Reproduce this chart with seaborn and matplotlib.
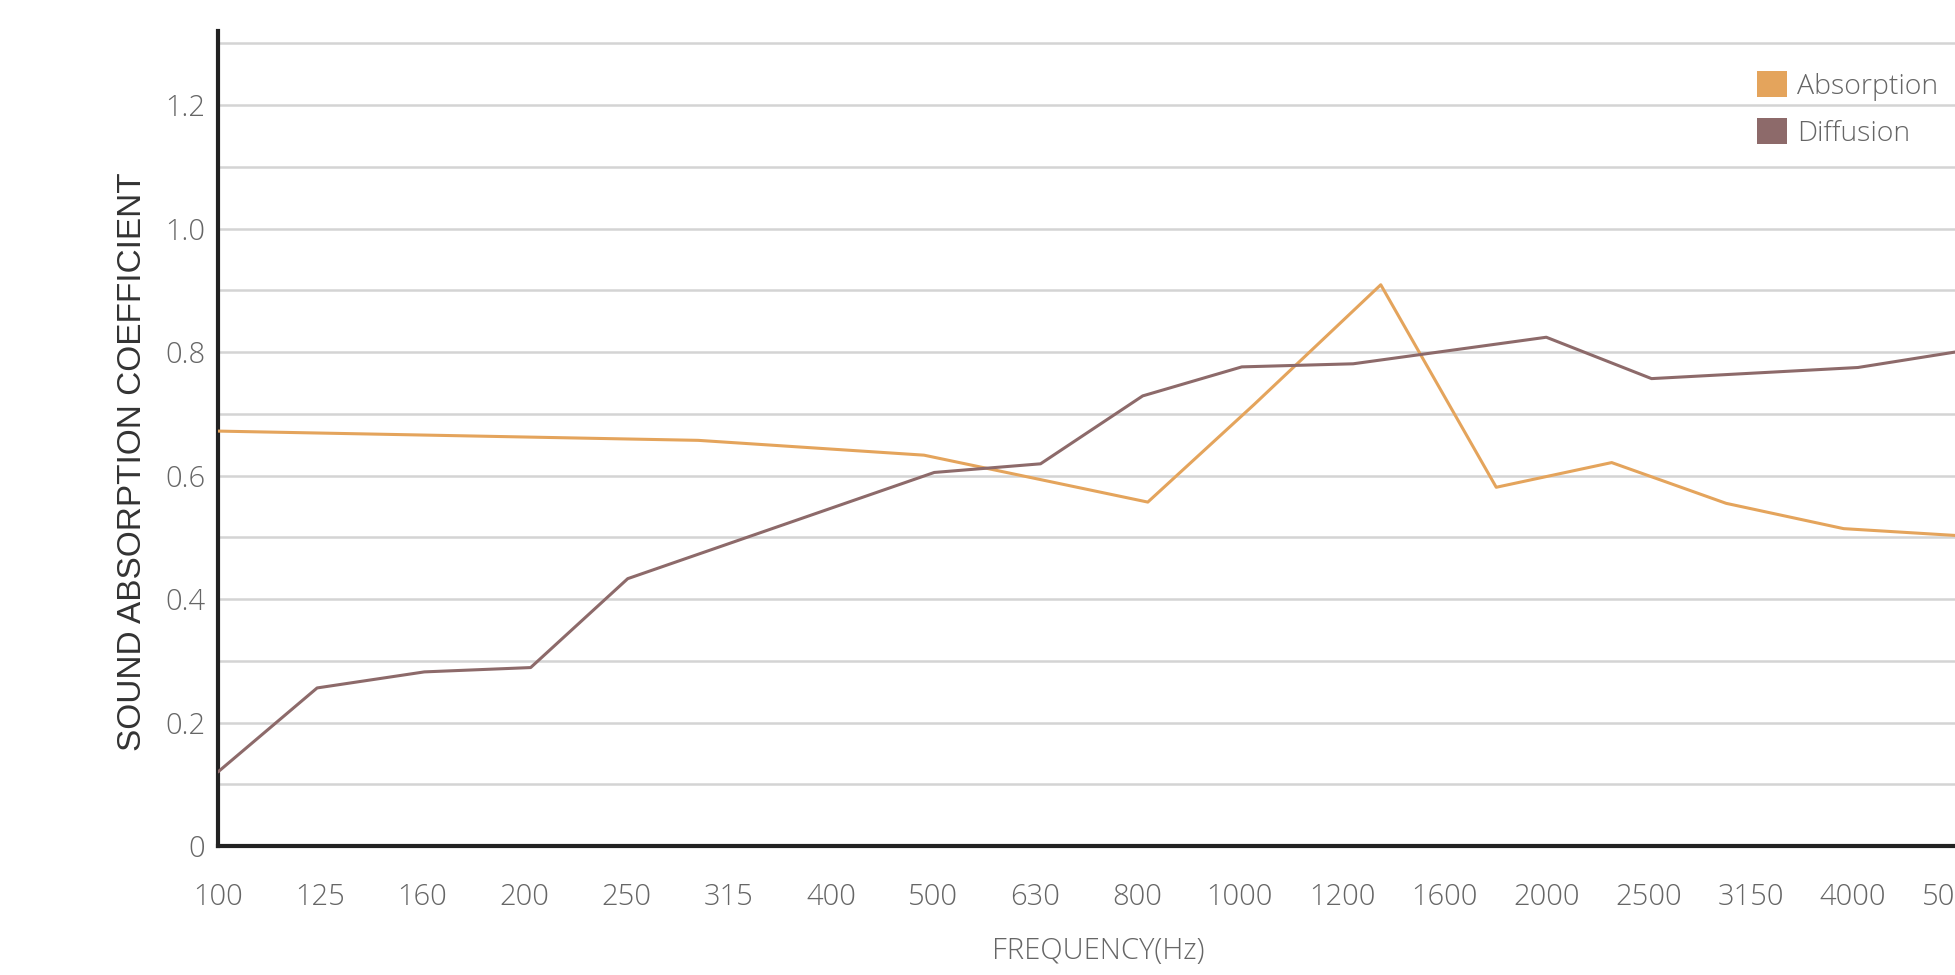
"""Sound absorption / diffusion coefficient vs frequency."""

import matplotlib

matplotlib.use("Agg")
import matplotlib.pyplot as plt
import numpy as np
import pandas as pd
import seaborn as sns
from matplotlib.patches import Patch

# third-octave band labels, one per category slot on the x axis
freq_labels = ["100", "125", "160", "200", "250", "315", "400", "500", "630",
               "800", "1000", "1200", "1600", "2000", "2500", "3150", "4000", "5000"]

# vertices in category-index units (the curve bends between bands too)
absorption_x = [0.0, 4.7, 6.91, 9.1, 10.14, 11.38, 12.51, 13.64, 14.76, 15.91, 17.0]
absorption_y = [0.672, 0.657, 0.633, 0.557, 0.715, 0.909, 0.581, 0.621, 0.555, 0.514, 0.503]

diffusion_x = [0.0, 0.97, 2.02, 3.06, 4.01, 7.01, 8.05, 9.05, 10.02, 11.11, 13.0, 14.03, 16.05, 17.0]
diffusion_y = [0.12, 0.256, 0.282, 0.289, 0.433, 0.605, 0.619, 0.729, 0.776, 0.781, 0.824, 0.757, 0.775, 0.80]

y_grid = [0.1, 0.2, 0.3, 0.4, 0.5, 0.6, 0.7, 0.8, 0.9, 1.0, 1.1, 1.2, 1.3]
y_tick_vals = [0.0, 0.2, 0.4, 0.6, 0.8, 1.0, 1.2]
y_tick_labels = ["0", "0.2", "0.4", "0.6", "0.8", "1.0", "1.2"]

colors = {"Absorption": "#E4A45C", "Diffusion": "#8D6A6A"}

df = pd.concat([
    pd.DataFrame({"x": absorption_x, "y": absorption_y, "series": "Absorption"}),
    pd.DataFrame({"x": diffusion_x, "y": diffusion_y, "series": "Diffusion"}),
])

sns.set_style("white")
plt.rcParams["font.family"] = ["Open Sans", "DejaVu Sans"]

fig = plt.figure(figsize=(19.56, 9.75), dpi=100)
ax = fig.add_axes([218 / 1956, 129 / 975, (1955 - 218) / 1956, (944 - 129) / 975])

for y in y_grid:
    ax.axhline(y, color="#d4d4d4", lw=1.8, zorder=0)

sns.lineplot(data=df, x="x", y="y", hue="series", palette=colors, sort=False,
             estimator=None, lw=2.2, legend=False, ax=ax, zorder=3)

ax.set_xlim(0, 17)
ax.set_ylim(0, 1.32)
ax.set_xticks(range(len(freq_labels)))
ax.set_xticklabels(freq_labels, fontsize=21, color="#666666", fontweight="light")
ax.set_yticks(y_tick_vals)
ax.set_yticklabels(y_tick_labels, fontsize=21, color="#666666", fontweight="light")
ax.tick_params(axis="x", length=18, width=2.2, color="#222222", pad=8, direction="out")
ax.tick_params(axis="y", length=0, pad=9)

for side in ["top", "right"]:
    ax.spines[side].set_visible(False)
for side in ["left", "bottom"]:
    ax.spines[side].set_color("#222222")
    ax.spines[side].set_linewidth(3)

ax.set_xlabel("FREQUENCY(Hz)", fontsize=21, color="#666666", fontweight="light")
ax.xaxis.set_label_coords((1098 - 218) / (1955 - 218), -(936 - 846) / (944 - 129))
ax.set_ylabel("SOUND ABSORPTION COEFFICIENT", fontsize=24, color="#333333",
              family=["Liberation Sans", "DejaVu Sans"], va="center")
ax.yaxis.set_label_coords(-(218 - 133) / (1955 - 218), 0.472)

handles = [Patch(facecolor=colors[k], edgecolor="none", label=k) for k in colors]
leg = ax.legend(handles=handles, loc="upper right", bbox_to_anchor=(0.997, 0.965),
                frameon=False, fontsize=20.5, handlelength=1.05, handleheight=1.05,
                handletextpad=0.35, labelspacing=0.6, borderaxespad=0.0)
for t in leg.get_texts():
    t.set_color("#666666")
    t.set_fontweight("light")

fig.savefig("out.png", dpi=100)
